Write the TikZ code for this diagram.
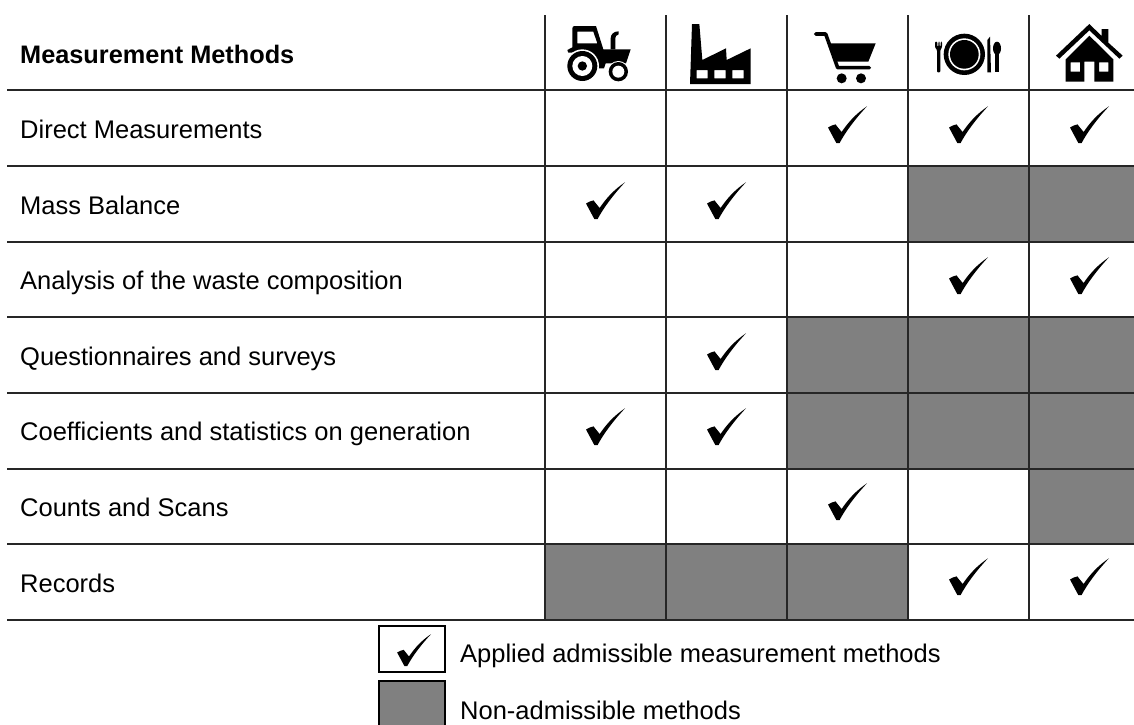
\documentclass[tikz,border=0pt]{standalone}
\usepackage{fontspec}
\setmainfont{Liberation Sans}
\tikzset{
  rule/.style={line width=2pt,draw=black!85},
  graycell/.style={fill=black!50,draw=none},
  rowlabel/.style={anchor=base west,inner sep=0pt,font=\fontsize{25.5}{28}\selectfont},
  headlabel/.style={rowlabel,font=\fontsize{25.3}{28}\selectfont\bfseries},
  legendbox/.style={line width=2pt,draw=black},
  chk/.pic={\fill[black] (-0.7,0) -- (-9,-15.5) .. controls (-6,-17.3) and (-3.5,-18.3) .. (-1.5,-18.6) -- (4.6,-11) .. controls (12,-22) and (20,-30) .. (30,-36.7) .. controls (19,-25) and (9,-12) .. (2.6,0) -- cycle;}
}
\begin{document}
\begin{tikzpicture}[x=1pt,y=-1pt]
\clip (0,0) rectangle (1134,724);
\fill[white] (0,0) rectangle (1134,724);
% gray cells
\foreach \xa/\ya/\xb/\yb in {907.5/166/1134/241.5, 786.5/317/1134/468.5, 1028.5/468.5/1134/544, 544.5/544/907.5/620}
  \path[graycell] (\xa,\ya) rectangle (\xb,\yb);
% rules
\foreach \y in {90,166,241.5,317,393,468.5,544,620}
  \draw[rule] (7,\y) -- (1134,\y);
\foreach \x in {544.5,665.5,786.5,907.5,1028.5}
  \draw[rule] (\x,15) -- (\x,620);
% labels
\node[headlabel] (hdr) at (20,63) {Measurement Methods};
\node[rowlabel] (r1) at (20,138) {Direct Measurements};
\node[rowlabel] (r2) at (20,214) {Mass Balance};
\node[rowlabel] (r3) at (20,289) {Analysis of the waste composition};
\node[rowlabel] (r4) at (20,365) {Questionnaires and surveys};
\node[rowlabel] (r5) at (20,440) {Coefficients and statistics on generation};
\node[rowlabel] (r6) at (20,516) {Counts and Scans};
\node[rowlabel] (r7) at (20,592) {Records};
% checks
\foreach \x/\y in {837/143,958/143,1079/143,
  595/219,716/219,
  958/294,1079/294,
  716/370,
  595/445,716/445,
  837/520,
  958/595,1079/595}
  \pic at (\x,\y) {chk};
% tractor
\begin{scope}[shift={(540,0)},scale=1/3]
\fill[even odd rule] (97,85) .. controls (97,80) and (100,78) .. (105,78) -- (168,78) -- (190,148) -- (272,148) -- (258,190) -- (197,190) -- (192,205) -- (175,205) -- (150,155) -- (85,158) -- (82,150) -- (97,142) -- cycle
  (112,95) -- (160,95) -- (172,130) -- (112,130) -- cycle;
\fill (212,148) -- (212,115) .. controls (212,102) and (222,94) .. (236,94) -- (236,103) .. controls (228,103) and (226,110) .. (226,120) -- (226,148) -- cycle;
\fill[white] (127,198) circle (50);
\fill (127,198) circle (45);
\fill[white] (127,198) circle (30);
\fill (127,198) circle (14);
\fill[white] (235,215) circle (32);
\fill (235,215) circle (29);
\fill[white] (235,215) circle (18);
\end{scope}
% factory
\begin{scope}[shift={(540,0)},scale=1/3]
\fill[even odd rule] (450,252) -- (456,72) -- (478,72) -- (487,180) -- (558,145) -- (560,180) -- (632,145) -- (632,252) -- cycle
  (470,210) rectangle (503,235) (523,210) rectangle (557,235) (577,210) rectangle (611,235);
\end{scope}
% cart
\begin{scope}[shift={(800,15)},scale=1/3]
\draw[line width=3.6pt,line cap=round,line join=round] (47,57) -- (77,57) -- (113,158) -- (208,158);
\fill (88,85) -- (227,85) -- (205,140) -- (105,140) -- cycle;
\fill (125,190) circle (15);
\fill (183,190) circle (15);
\end{scope}
% plate
\begin{scope}[shift={(840,0)},scale=1/3]
\fill (373,163) circle (62);
\fill[white] (373,163) circle (48);
\fill (373,163) circle (43);
\fill[rounded corners=1pt] (291,150) -- (291,217) -- (301,217) -- (301,150) -- (306,142) -- (306,125) -- (302,125) -- (302,140) -- (299,140) -- (299,125) -- (295,125) -- (295,140) -- (292,140) -- (292,125) -- (285,125) -- (285,142) -- cycle;
\fill (442,217) -- (442,120) -- (450,110) -- (453,217) -- cycle;
\fill (471,145) ellipse (12 and 20);
\fill (466,150) rectangle (476,217);
\end{scope}
% house
\begin{scope}[shift={(1040,15)},scale=1/3]
\fill (48,122) -- (148,27) -- (185,63) -- (185,42) -- (205,42) -- (205,83) -- (248,122) -- (238,131) -- (148,46) -- (58,131) -- cycle;
\fill[even odd rule] (77,133) -- (148,62) -- (220,133) -- (220,200) -- (163,200) -- (163,140) -- (133,140) -- (133,200) -- (77,200) -- cycle
  (92,142) rectangle (120,170) (177,142) rectangle (205,170);
\end{scope}
% legend
\node[legendbox,minimum width=66pt,minimum height=46pt,inner sep=0pt] (key1) at (412,649) {};
\pic[scale=.87] at (405,666) {chk};
\node[legendbox,fill=black!50,minimum width=66pt,minimum height=50pt,inner sep=0pt] (key2) at (412,706) {};
\node[rowlabel] (k1) at (460,662) {Applied admissible measurement methods};
\node[rowlabel] (k2) at (460,719) {Non-admissible methods};
\end{tikzpicture}
\end{document}
